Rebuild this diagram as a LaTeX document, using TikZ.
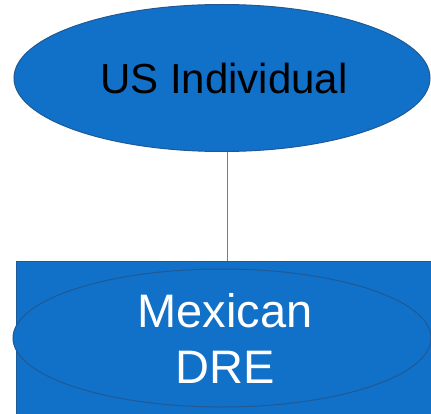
\documentclass[tikz,border=0pt]{standalone}
\usepackage{fontspec}
\setmainfont{Liberation Sans}
\usetikzlibrary{shapes.geometric}
\definecolor{shapefill}{HTML}{1170C8}
\definecolor{shapeedge}{HTML}{1F5A96}
\definecolor{linkline}{HTML}{3F8AD6}
\begin{document}
\begin{tikzpicture}[x=1pt,y=1pt,
  oval/.style={ellipse, fill=shapefill, draw=shapeedge, line width=1pt, inner sep=0pt, align=center},
  panel/.style={rectangle, fill=shapefill, draw=shapeedge, line width=1.2pt, inner sep=0pt},
  link/.style={draw=linkline, line width=1pt}]
  \useasboundingbox (0,0) rectangle (431,413);
  \clip (0,0) rectangle (431,413);
  % lower panel holding the DRE oval
  \node[panel, minimum width=430pt, minimum height=170pt, anchor=north west] (panel) at (16,152) {};
  \node[oval, minimum width=418pt, minimum height=138pt, text=white,
        font=\fontsize{47}{56}\selectfont] (dre) at (222,75) {};
  \node[text=white, align=center, font=\fontsize{47}{56}\selectfont] (dretext) at (225,75) {Mexican\\DRE};
  % upper oval
  \node[oval, minimum width=416pt, minimum height=147pt] (us) at (222,335) {};
  \node[text=black, font=\fontsize{42}{50}\selectfont] (ustext) at (224,335) {US Individual};
  % connector
  \coordinate (tap) at (227,0);
  \draw[link] (us.south -| tap) -- (panel.north -| tap);
\end{tikzpicture}
\end{document}
